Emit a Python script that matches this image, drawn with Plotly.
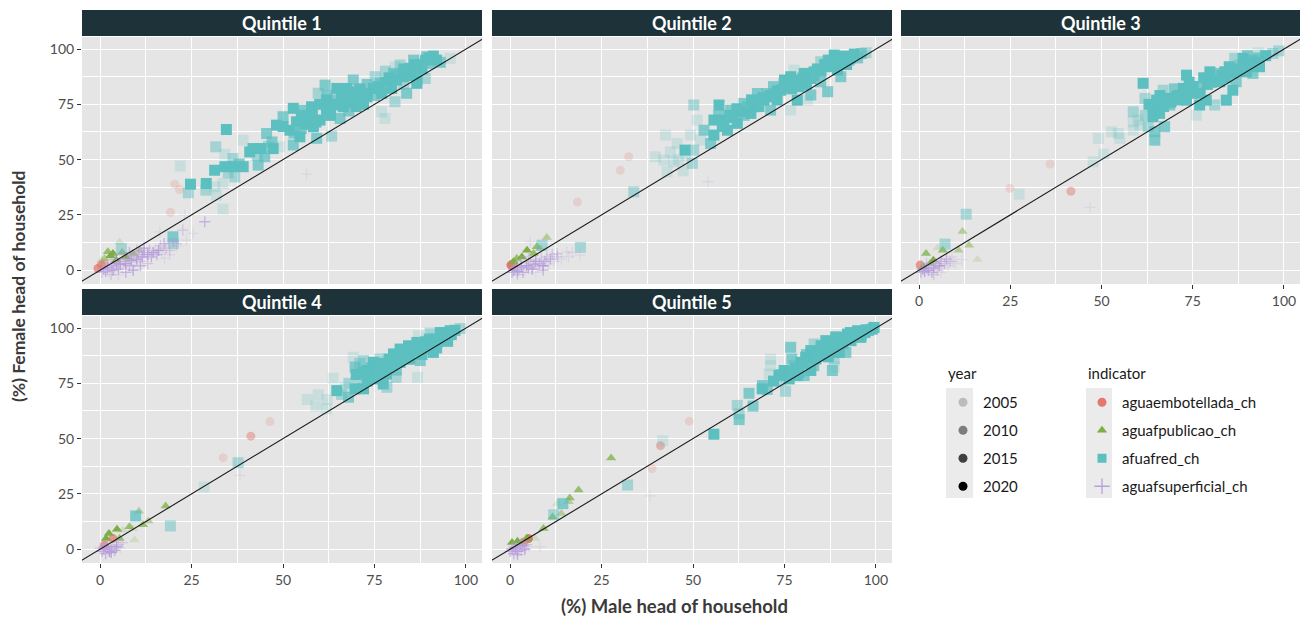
import plotly.graph_objects as go

# ---------------- data ----------------
YEARS = [2005, 2010, 2015, 2020]
YEAR_ALPHA = [0.2, 0.467, 0.733, 1.0]
INDICATORS = ["aguaembotellada_ch", "aguafpublicao_ch", "afuafred_ch", "aguafsuperficial_ch"]
COLORS = ["#E2786E", "#7CAE43", "#5CBFC0", "#B9A0DC"]
QUINTILES = ["Quintile 1", "Quintile 2", "Quintile 3", "Quintile 4", "Quintile 5"]
TICKS = [0, 25, 50, 75, 100]
TICK_LABELS = ["0", "25", "50", "75", "100"]

# each point: (male %, female %, year index into YEARS)
q1_embotellada = [(20.4, 38.9, 0), (21.7, 36.5, 0), (19.2, 26.2, 0), (-0.6, 0.8, 2), (0.3, 2.3, 2), (1.2, 3.0, 1)]
q1_publicao = [(5.3, 12.8, 0), (2.1, 8.3, 2), (3.5, 7.5, 3), (1.2, 5.3, 1), (7.1, 6.0, 3), (9.0, 7.5, 2),
               (10.8, 9.0, 1), (4.4, 4.5, 3), (0.3, 4.5, 0), (2.8, 6.5, 3), (6.0, 8.0, 2)]
q1_fred = [(91.1, 96.8, 3), (89.3, 96.5, 2), (85.7, 95.0, 2), (95.7, 95.8, 0), (82.0, 92.8, 1), (84.7, 91.3, 3),
           (87.5, 92.8, 3), (90.2, 93.5, 2), (80.2, 89.0, 2), (82.9, 87.5, 3), (86.6, 86.0, 3), (88.9, 86.7, 1),
           (86.6, 84.5, 3), (84.3, 89.0, 3), (75.2, 87.5, 1), (76.5, 84.5, 2), (79.7, 82.2, 3), (83.8, 80.0, 2),
           (80.6, 76.2, 1), (76.9, 71.6, 0), (77.9, 68.6, 0), (69.2, 86.0, 2), (74.7, 82.2, 3), (72.9, 78.4, 3),
           (71.0, 77.0, 3), (70.1, 80.7, 3), (67.4, 82.2, 3), (64.7, 82.2, 3), (61.5, 83.7, 2), (59.6, 80.0, 1),
           (61.9, 77.0, 3), (63.7, 74.7, 3), (66.5, 73.9, 3), (61.9, 71.6, 3), (60.1, 67.9, 3), (65.6, 68.6, 2),
           (58.3, 64.9, 3), (59.2, 59.6, 2), (63.3, 60.6, 1), (57.8, 73.9, 3), (55.1, 72.4, 2), (57.4, 68.6, 3),
           (53.7, 67.1, 3), (52.8, 73.2, 3), (50.0, 69.4, 2), (48.2, 65.6, 3), (45.5, 61.8, 2), (51.9, 63.3, 3),
           (54.6, 60.3, 3), (49.1, 55.8, 0), (52.8, 56.6, 2), (47.3, 55.0, 3), (45.0, 51.3, 2), (41.8, 55.0, 3),
           (39.1, 58.8, 0), (40.9, 53.5, 3), (43.2, 47.5, 2), (39.1, 46.8, 3), (36.3, 46.8, 3), (34.1, 46.8, 3),
           (36.8, 42.2, 1), (33.6, 39.2, 0), (31.3, 45.2, 3), (29.0, 39.2, 3), (31.3, 37.7, 0), (31.8, 33.9, 0),
           (33.6, 27.6, 0), (34.5, 63.6, 3), (31.6, 55.8, 1), (34.1, 52.5, 0), (36.3, 50.5, 1), (21.9, 47.1, 0),
           (24.7, 38.9, 3), (24.1, 35.0, 1), (28.9, 36.2, 1), (19.9, 15.1, 2), (5.8, 9.8, 1), (20.0, 12.0, 1),
           (88.0, 94.3, 0), (80.6, 92.0, 0), (78.0, 85.0, 3), (81.0, 86.0, 3), (73.0, 80.0, 3), (68.0, 76.0, 3),
           (66.0, 79.0, 3), (64.0, 77.0, 2), (70.0, 74.0, 3), (75.0, 79.0, 2), (85.0, 88.0, 3), (88.0, 91.0, 3),
           (92.0, 95.0, 3), (93.0, 94.0, 2), (56.0, 66.0, 3), (62.0, 74.0, 3), (47.0, 58.0, 2), (44.0, 55.0, 3),
           (55.0, 64.0, 2), (58.0, 70.0, 3), (60.0, 75.0, 3), (62.0, 79.0, 2), (65.0, 75.0, 3), (67.0, 77.0, 3),
           (69.0, 79.0, 3), (71.0, 82.0, 3), (73.0, 84.0, 2), (76.0, 83.0, 3), (79.0, 87.0, 3), (81.0, 88.0, 2),
           (83.0, 91.0, 3), (86.0, 93.0, 3), (89.0, 95.0, 3), (90.0, 96.0, 3), (86.0, 90.0, 2), (77.0, 80.0, 3),
           (72.0, 75.0, 3), (68.0, 72.0, 2), (63.0, 70.0, 3), (59.0, 67.0, 3), (55.0, 70.0, 3), (50.0, 65.0, 3),
           (53.0, 62.0, 2), (46.0, 56.0, 1), (43.0, 52.0, 1), (38.0, 48.0, 2), (35.0, 44.0, 1), (78.0, 90.0, 1),
           (83.0, 84.0, 1)]
q1_superficial = [(28.6, 21.9, 2), (22.6, 18.1, 1), (25.4, 16.6, 0), (23.6, 13.6, 0), (16.3, 17.3, 0), (23.1, 24.9, 0),
                  (56.4, 43.4, 0), (19.0, 9.0, 1), (17.6, 5.3, 0), (20.8, 12.0, 1),
                  (0.5, -1, 1), (1, 0.5, 3), (1.5, -0.5, 2), (2, 1, 3), (2.5, -1, 0), (3, 2, 2), (3.5, 0, 3), (4, 1.5, 1),
                  (4.5, 3, 3), (5, 0.5, 2), (5.5, 2.5, 3), (6, 1, 0), (6.5, 4, 2), (7, 3, 3), (7.5, 5, 1), (8, 2, 2),
                  (8.5, 4.5, 3), (9, 6, 2), (9.5, 3.5, 0), (10, 5, 3), (10.5, 7, 2), (11, 4, 1), (11.5, 6, 3), (12, 8, 2),
                  (12.5, 5.5, 0), (13, 7, 3), (13.5, 9, 1), (14, 6, 2), (14.5, 8, 3), (15, 10, 0), (15.5, 7, 2), (16, 9, 3),
                  (16.5, 11, 1), (17, 8, 0), (17.5, 12, 2), (18, 10, 1), (19, 7, 0), (20, 13, 2), (21, 11, 0), (6, 7, 1),
                  (8, 8, 2), (10, 9, 1), (12, 10, 3), (4, 5, 2), (3, -2, 1), (5, -2, 0), (7, -1, 2), (9, 0, 3), (11, 2, 2),
                  (13, 3, 1)]

q2_embotellada = [(32.4, 51.3, 0), (30.1, 45.2, 0), (18.4, 30.8, 0), (0.2, 2.3, 3), (0.9, 3.0, 2)]
q2_publicao = [(10.0, 14.8, 1), (4.6, 9.0, 3), (1.8, 5.3, 2), (3.2, 6.0, 3), (6.4, 7.5, 2), (8.2, 9.8, 1),
               (0.9, 3.8, 3), (5.5, 4.5, 0), (7.3, 10.6, 2)]
q2_fred = [(94.1, 97.7, 3), (91.3, 96.8, 3), (88.6, 97.3, 3), (97.3, 98.3, 1), (92.7, 95.0, 2), (84.9, 94.3, 1),
           (86.8, 92.0, 3), (89.5, 90.5, 3), (90.4, 87.5, 2), (83.1, 89.7, 3), (80.4, 89.0, 3), (77.6, 90.5, 0),
           (76.7, 87.5, 3), (79.5, 86.0, 3), (82.2, 86.7, 3), (84.9, 85.2, 2), (86.8, 80.7, 2), (82.2, 79.2, 2),
           (81.3, 76.9, 0), (78.5, 76.9, 3), (74.9, 84.5, 3), (74.0, 81.4, 3), (72.1, 78.4, 3), (70.3, 79.9, 2),
           (67.6, 79.9, 2), (69.4, 76.9, 3), (71.2, 72.4, 2), (76.7, 72.4, 0), (66.6, 73.9, 3), (63.9, 75.4, 2),
           (65.8, 70.9, 3), (63.0, 71.6, 3), (60.3, 72.4, 2), (57.1, 74.7, 3), (58.4, 67.9, 3), (62.1, 66.4, 3),
           (55.7, 67.9, 3), (59.4, 63.3, 3), (55.7, 61.1, 3), (53.0, 63.3, 2), (54.8, 57.3, 2), (51.1, 67.9, 0),
           (50.2, 74.7, 1), (52.1, 58.8, 0), (49.3, 61.1, 0), (47.8, 54.3, 3), (50.2, 54.3, 1), (45.7, 57.3, 0),
           (42.5, 61.1, 0), (43.8, 53.5, 0), (39.7, 51.3, 0), (42.0, 49.8, 0), (44.7, 49.0, 0), (49.8, 48.3, 1),
           (42.9, 44.5, 0), (47.3, 44.9, 0), (33.8, 35.4, 1), (19.2, 10.3, 1), (8.7, 11.3, 1),
           (87.0, 95.0, 3), (85.0, 90.0, 3), (81.0, 84.0, 3), (77.0, 82.0, 3), (73.0, 77.0, 3), (68.0, 74.0, 3),
           (64.0, 70.0, 2), (61.0, 69.0, 3), (92.0, 93.0, 3), (95.0, 96.0, 2),
           (88.0, 94.0, 3), (90.0, 95.0, 3), (86.0, 93.0, 3), (84.0, 91.0, 3), (83.0, 88.0, 3), (80.0, 87.0, 2),
           (78.0, 85.0, 3), (76.0, 83.0, 3), (73.0, 81.0, 3), (71.0, 79.0, 3), (69.0, 78.0, 3), (67.0, 76.0, 3),
           (65.0, 74.0, 2), (62.0, 73.0, 3), (60.0, 70.0, 3), (58.0, 65.0, 3), (57.0, 70.0, 2), (66.0, 77.0, 3),
           (72.0, 83.0, 2), (75.0, 86.0, 3), (79.0, 83.0, 3), (93.0, 96.0, 3), (96.0, 98.0, 2), (48.0, 52.0, 0),
           (46.0, 50.0, 0)]
q2_superficial = [(5.5, 12.8, 0), (54.1, 40.0, 0), (19.0, 6.8, 0), (15.5, 8.3, 0), (12.8, 7.5, 1),
                  (0.5, -1, 2), (1, 0, 3), (1.5, 1, 2), (2, -0.5, 3), (2.5, 0.5, 1), (3, 1.5, 3), (3.5, -1, 2), (4, 0, 0),
                  (4.5, 2, 3), (5, 1, 2), (5.5, 3, 1), (6, 0.5, 3), (6.5, 2.5, 2), (7, 4, 3), (7.5, 1.5, 0), (8, 3, 2),
                  (8.5, 5, 1), (9, 2, 3), (9.5, 4, 2), (10, 6, 1), (10.5, 3, 0), (11, 5, 2), (11.5, 7, 1), (12, 4, 0),
                  (13, 6, 1), (14, 5, 0), (16, 6, 0), (17, 8, 0), (3, 4, 1), (5, 6, 1), (2, -2, 1), (7, -1, 0), (9, 0, 2)]

q3_embotellada = [(35.9, 48.0, 0), (24.9, 37.0, 0), (41.6, 35.7, 1), (0.3, 2.3, 2)]
q3_publicao = [(11.9, 17.5, 1), (13.7, 11.3, 1), (16.0, 4.8, 0), (10.8, 9.0, 1), (1.9, 7.5, 2), (5.1, 10.1, 0),
               (6.5, 9.0, 2), (3.9, 4.5, 3), (3.0, 3.0, 2), (1.2, 1.5, 3)]
q3_fred = [(98.6, 99.2, 1), (94.7, 97.3, 0), (92.9, 98.3, 0), (91.5, 95.0, 2), (88.8, 95.8, 3), (86.5, 95.8, 1),
           (93.3, 92.0, 3), (90.6, 92.0, 3), (87.9, 92.8, 1), (86.0, 89.0, 3), (83.8, 89.7, 3), (81.5, 89.0, 2),
           (79.7, 89.7, 3), (82.4, 85.2, 3), (86.9, 85.2, 2), (86.0, 81.4, 3), (89.7, 89.7, 3), (91.5, 89.0, 2),
           (84.2, 76.9, 3), (81.0, 74.7, 1), (78.7, 76.9, 3), (76.9, 74.7, 3), (76.0, 70.1, 0), (73.3, 88.2, 3),
           (75.1, 83.0, 3), (72.4, 82.2, 3), (70.5, 78.4, 3), (73.3, 76.9, 3), (67.8, 77.7, 3), (66.9, 81.4, 1),
           (65.1, 76.9, 3), (68.7, 74.7, 2), (65.9, 70.9, 3), (64.1, 73.9, 3), (64.1, 69.4, 3), (61.4, 84.5, 3),
           (61.9, 77.7, 1), (58.7, 71.6, 1), (58.7, 67.1, 0), (60.5, 65.6, 0), (62.8, 64.9, 1), (67.3, 64.9, 2),
           (64.6, 62.6, 2), (64.6, 58.8, 2), (58.7, 63.3, 0), (52.7, 62.6, 0), (55.0, 59.6, 0), (49.1, 59.6, 0),
           (54.6, 61.8, 0), (50.6, 52.5, 0), (47.7, 49.0, 0), (27.4, 34.4, 0), (12.9, 25.3, 1), (7.1, 11.8, 1),
           (84.0, 87.0, 3), (80.0, 85.0, 3), (77.0, 80.0, 3), (71.0, 79.0, 3), (88.0, 90.0, 3), (92.0, 94.0, 3),
           (95.0, 97.0, 3), (93.0, 96.0, 2), (89.0, 93.0, 3), (87.0, 91.0, 3), (85.0, 92.0, 3), (83.0, 88.0, 3),
           (81.0, 86.0, 3), (79.0, 84.0, 3), (77.0, 83.0, 2), (75.0, 80.0, 3), (73.0, 80.0, 3), (71.0, 77.0, 3),
           (69.0, 76.0, 3), (67.0, 74.0, 3), (65.0, 72.0, 2), (63.0, 75.0, 3), (66.0, 79.0, 3), (70.0, 82.0, 2),
           (74.0, 85.0, 3), (78.0, 87.0, 3), (90.0, 97.0, 2), (97.0, 98.0, 1), (62.0, 70.0, 1), (60.0, 68.0, 0)]
q3_superficial = [(46.8, 28.4, 0), (11.7, 4.8, 0), (9.4, 3.8, 0),
                  (0.5, -1, 2), (1, 0.5, 3), (1.5, -0.5, 3), (2, 1, 2), (2.5, 0, 3), (3, 2, 1), (3.5, -1, 2), (4, 1, 3),
                  (4.5, 3, 2), (5, 0, 1), (5.5, 2, 3), (6, 4, 2), (6.5, 1, 0), (7, 3, 1), (7.5, 5, 2), (8, 2, 0),
                  (8.5, 4, 1), (9, 6, 0), (10, 3, 0), (2, 3, 1), (4, -2, 1), (6, -1, 0)]

q4_embotellada = [(46.4, 57.7, 0), (41.2, 51.1, 1), (33.6, 41.4, 0), (3.5, 4.8, 2), (1.2, 1.8, 2)]
q4_publicao = [(17.9, 19.5, 2), (10.6, 17.1, 1), (13.2, 12.8, 1), (11.7, 11.1, 2), (8.9, 9.3, 0), (8.0, 10.1, 2),
               (4.6, 9.0, 3), (2.4, 7.1, 3), (6.2, 8.6, 0), (9.4, 4.1, 0), (1.6, 4.8, 3), (5.3, 4.8, 2)]
q4_fred = [(98.4, 99.8, 1), (95.7, 98.8, 3), (93.0, 98.0, 3), (90.2, 97.7, 1), (87.0, 96.5, 0), (94.8, 95.0, 3),
           (92.1, 93.5, 3), (89.3, 93.5, 3), (86.6, 93.5, 3), (84.3, 92.0, 3), (91.1, 89.0, 3), (88.4, 90.5, 3),
           (82.0, 90.5, 3), (80.2, 88.3, 3), (87.5, 85.3, 2), (84.7, 86.0, 3), (82.0, 84.5, 3), (79.3, 84.5, 1),
           (76.5, 86.0, 1), (74.7, 84.5, 3), (72.0, 85.3, 1), (69.2, 86.8, 0), (69.7, 82.3, 2), (72.9, 80.8, 3),
           (75.6, 81.5, 3), (78.3, 79.2, 3), (80.9, 77.7, 1), (86.8, 77.7, 0), (75.2, 77.0, 3), (77.4, 74.7, 3),
           (78.4, 73.2, 1), (72.0, 72.5, 3), (69.7, 72.5, 3), (66.9, 73.2, 0), (64.7, 71.7, 3), (71.0, 77.0, 1),
           (67.9, 68.7, 2), (63.7, 77.3, 0), (59.6, 69.8, 0), (62.1, 67.7, 0), (56.6, 67.7, 0), (59.0, 64.7, 0),
           (61.9, 63.5, 0), (37.7, 39.1, 1), (28.4, 28.1, 0), (19.2, 10.5, 1), (9.7, 15.0, 2),
           (90.0, 95.0, 3), (86.0, 90.0, 3), (83.0, 88.0, 3), (78.0, 83.0, 3), (74.0, 79.0, 3), (96.0, 97.0, 3),
           (81.0, 81.0, 2), (77.0, 78.0, 3),
           (97.0, 99.0, 3), (95.0, 97.0, 3), (93.0, 96.0, 3), (91.0, 95.0, 3), (89.0, 94.0, 2), (87.0, 92.0, 3),
           (85.0, 90.0, 3), (83.0, 88.5, 3), (81.0, 87.0, 3), (79.0, 86.0, 3), (77.0, 84.0, 3), (76.0, 82.0, 3),
           (74.0, 82.0, 2), (72.0, 80.0, 3), (70.0, 79.0, 3), (73.0, 76.0, 3), (76.0, 79.0, 3), (80.0, 83.0, 3),
           (84.0, 86.0, 3), (88.0, 88.0, 3), (92.0, 91.0, 3), (95.0, 94.0, 3), (68.0, 75.0, 1), (66.0, 70.0, 1),
           (71.0, 84.0, 1)]
q4_superficial = [(38.2, 33.4, 0),
                  (0.5, -1, 2), (1, 0, 3), (1.5, -2, 2), (2, 1, 3), (2.5, -1, 3), (3, 0, 2), (3.5, 1.5, 1), (4, -0.5, 2),
                  (4.5, 1, 3), (5, 2, 1), (5.5, 0.5, 0), (6, 3, 1), (1, 1, 2), (3, -1.5, 3), (0, 0.5, 1)]

q5_embotellada = [(49.0, 57.9, 0), (41.1, 46.8, 1), (38.8, 36.4, 0), (5.0, 4.8, 3), (3.7, 3.3, 2)]
q5_publicao = [(27.6, 41.2, 2), (18.7, 26.8, 2), (16.3, 23.2, 2), (16.0, 21.4, 1), (12.8, 20.6, 0), (14.0, 16.1, 1),
               (11.6, 14.6, 2), (9.1, 9.3, 2), (6.8, 4.8, 0), (4.6, 4.8, 3), (2.0, 3.6, 3), (0.5, 3.0, 3), (3.2, 2.6, 1)]
q5_fred = [(99.5, 100.3, 3), (97.3, 99.2, 3), (95.0, 98.8, 3), (92.2, 97.3, 3), (90.4, 95.8, 3), (93.2, 94.3, 3),
           (95.9, 95.8, 3), (89.5, 93.5, 3), (86.3, 94.3, 3), (83.1, 92.8, 1), (82.2, 89.8, 3), (88.6, 89.0, 3),
           (91.8, 89.0, 2), (85.8, 87.5, 3), (83.6, 86.0, 3), (88.6, 86.0, 1), (88.1, 80.8, 2), (88.6, 82.3, 0),
           (80.8, 86.8, 3), (76.7, 91.3, 2), (79.5, 84.5, 3), (77.6, 83.0, 1), (74.9, 80.8, 3), (73.5, 78.5, 3),
           (76.3, 77.0, 3), (78.5, 78.5, 3), (80.4, 78.5, 2), (82.2, 80.8, 3), (71.2, 86.0, 0), (71.2, 83.0, 0),
           (70.8, 79.2, 0), (74.0, 76.2, 1), (75.3, 71.4, 1), (68.9, 72.5, 3), (70.3, 72.2, 2), (65.3, 70.5, 2),
           (66.4, 64.7, 2), (62.1, 65.0, 1), (62.6, 61.2, 1), (62.6, 58.6, 2), (55.7, 52.0, 3), (41.7, 49.0, 0),
           (32.1, 29.0, 1), (14.4, 20.6, 2), (11.9, 15.6, 1),
           (97.0, 98.0, 3), (94.0, 96.0, 3), (91.0, 93.0, 3), (87.0, 91.0, 3), (85.0, 90.0, 3), (98.0, 99.0, 3),
           (99.0, 99.5, 3), (97.0, 98.5, 3), (96.0, 97.0, 3), (94.0, 97.0, 3), (92.0, 95.0, 3), (90.0, 93.0, 3),
           (88.0, 92.0, 3), (86.0, 90.0, 3), (84.0, 88.0, 3), (82.0, 86.0, 3), (80.0, 84.0, 3), (78.0, 82.0, 3),
           (76.0, 80.0, 3), (74.0, 79.0, 2), (72.0, 76.0, 3), (77.0, 86.0, 2), (81.0, 88.0, 2), (85.0, 92.0, 3),
           (89.0, 96.0, 3), (93.0, 98.0, 3), (87.0, 87.0, 3), (90.0, 89.0, 3), (83.0, 83.0, 2), (79.0, 80.0, 3),
           (69.0, 74.0, 2)]
q5_superficial = [(38.2, 24.1, 0), (8.2, 1.1, 0),
                  (0, -1, 2), (0.5, 0, 3), (1, -2, 2), (1.5, 0.5, 3), (2, -1, 3), (2.5, 1, 2), (3, -0.5, 1), (3.5, 1.5, 2),
                  (4, 0, 3), (4.5, 2, 1), (5, 1, 0), (1, 1, 1), (2, -2.5, 2), (3, 2, 2)]

PANEL_DATA = [
    [q1_embotellada, q1_publicao, q1_fred, q1_superficial],
    [q2_embotellada, q2_publicao, q2_fred, q2_superficial],
    [q3_embotellada, q3_publicao, q3_fred, q3_superficial],
    [q4_embotellada, q4_publicao, q4_fred, q4_superficial],
    [q5_embotellada, q5_publicao, q5_fred, q5_superficial],
]

# ---------------- layout geometry ----------------
W, H = 1302, 618
FONT = "Lato"
COL_PX = [(82, 482), (492, 892), (901, 1300)]
ROW_PLOT_PX = [(37, 284), (316, 563)]
ROW_STRIP_PX = [(10, 36), (289, 315)]
PANEL_POS = [(0, 0), (0, 1), (0, 2), (1, 0), (1, 1)]
X_RANGE = [-4.97, 104.4]
Y_RANGE = [-6.25, 105.45]

SYMBOLS = ["circle", "triangle-up", "square", "cross-thin"]
SIZES = [9, 9, 11, 8]


def fx(px):
    return px / W


def fy(py):
    return 1 - py / H


fig = go.Figure()
shapes = []
annotations = []
layout_axes = {}

for i, (row, col) in enumerate(PANEL_POS):
    n = i + 1
    xa = "x" if n == 1 else f"x{n}"
    ya = "y" if n == 1 else f"y{n}"
    x0, x1 = COL_PX[col]
    y0, y1 = ROW_PLOT_PX[row]
    show_x = (n in (3, 4, 5))
    show_y = (col == 0)
    common = dict(showgrid=True, gridcolor="white", gridwidth=1.4, zeroline=False, showline=False,
                  tickmode="array", tickvals=TICKS, ticktext=TICK_LABELS,
                  tickfont=dict(family=FONT, size=14, color="#4D4D4D"),
                  ticklen=4, tickwidth=1, tickcolor="#333333",
                  minor=dict(tickvals=[12.5, 37.5, 62.5, 87.5], showgrid=True, gridcolor="white", gridwidth=0.7, ticks=""))
    layout_axes["xaxis" if n == 1 else f"xaxis{n}"] = dict(
        common, domain=[fx(x0), fx(x1)], range=X_RANGE, anchor=ya,
        showticklabels=show_x, ticks="outside" if show_x else "")
    layout_axes["yaxis" if n == 1 else f"yaxis{n}"] = dict(
        common, domain=[fy(y1), fy(y0)], range=Y_RANGE, anchor=xa,
        showticklabels=show_y, ticks="outside" if show_y else "")

    # points
    for k, pts in enumerate(PANEL_DATA[i]):
        marker = dict(symbol=SYMBOLS[k], size=SIZES[k], color=COLORS[k],
                      opacity=[YEAR_ALPHA[p[2]] for p in pts])
        if SYMBOLS[k] == "cross-thin":
            marker["line"] = dict(color=COLORS[k], width=1.3)
        else:
            marker["line"] = dict(width=0)
        fig.add_trace(go.Scatter(
            x=[p[0] for p in pts], y=[p[1] for p in pts], mode="markers",
            marker=marker, xaxis=xa, yaxis=ya, showlegend=False,
            name=INDICATORS[k],
            customdata=[YEARS[p[2]] for p in pts]))
    # identity line
    fig.add_trace(go.Scatter(x=[-20, 120], y=[-20, 120], mode="lines",
                             line=dict(color="#1a1a1a", width=1.1),
                             xaxis=xa, yaxis=ya, showlegend=False, hoverinfo="skip"))

    # strip
    sy0, sy1 = ROW_STRIP_PX[row]
    shapes.append(dict(type="rect", xref="paper", yref="paper", x0=fx(x0), x1=fx(x1),
                       y0=fy(sy1), y1=fy(sy0), fillcolor="#1E3239", line=dict(width=0), layer="below"))
    annotations.append(dict(text=f"<b>{QUINTILES[i]}</b>", xref="paper", yref="paper",
                            x=fx((x0 + x1) / 2), y=fy((sy0 + sy1) / 2), showarrow=False,
                            xanchor="center", yanchor="middle",
                            font=dict(family=FONT, size=18, color="white")))

# axis titles
annotations.append(dict(text="<b>(%) Male head of household</b>", xref="paper", yref="paper",
                        x=fx(674), y=fy(606), showarrow=False, xanchor="center", yanchor="middle",
                        font=dict(family=FONT, size=18.5, color="#3A3A3A")))
annotations.append(dict(text="<b>(%) Female head of household</b>", xref="paper", yref="paper",
                        x=fx(19), y=fy(286), showarrow=False, xanchor="center", yanchor="middle",
                        textangle=-90, font=dict(family=FONT, size=17.5, color="#3A3A3A")))

# legend titles
annotations.append(dict(text="year", xref="paper", yref="paper", x=fx(946), y=fy(373), showarrow=False,
                        xanchor="left", yanchor="middle", font=dict(family=FONT, size=15, color="#1A1A1A")))
annotations.append(dict(text="indicator", xref="paper", yref="paper", x=fx(1086), y=fy(373), showarrow=False,
                        xanchor="left", yanchor="middle", font=dict(family=FONT, size=15, color="#1A1A1A")))

# legend key backgrounds
shapes.append(dict(type="rect", xref="paper", yref="paper", x0=fx(946), x1=fx(973), y0=fy(498), y1=fy(388),
                   fillcolor="#EBEBEB", line=dict(width=0), layer="below"))
shapes.append(dict(type="rect", xref="paper", yref="paper", x0=fx(1086), x1=fx(1112), y0=fy(498), y1=fy(388),
                   fillcolor="#EBEBEB", line=dict(width=0), layer="below"))

# legend entries
for j, yr in enumerate(YEARS):
    fig.add_trace(go.Scatter(x=[None], y=[None], mode="markers", name=str(yr),
                             marker=dict(symbol="circle", size=9, color="black", opacity=YEAR_ALPHA[j]),
                             legend="legend", legendgroup=f"yr{yr}", showlegend=True))
for k, ind in enumerate(INDICATORS):
    m = dict(symbol=SYMBOLS[k], size=9, color=COLORS[k])
    if SYMBOLS[k] == "cross-thin":
        m["line"] = dict(color=COLORS[k], width=1.3)
        m["size"] = 11
    fig.add_trace(go.Scatter(x=[None], y=[None], mode="markers", name=ind, marker=m,
                             legend="legend2", legendgroup=f"ind{k}", showlegend=True))

legend_common = dict(bgcolor="rgba(0,0,0,0)", borderwidth=0, tracegroupgap=5.5,
                     font=dict(family=FONT, size=15, color="#1A1A1A"),
                     xanchor="left", yanchor="top", itemsizing="trace")
fig.update_layout(
    width=W, height=H,
    margin=dict(l=0, r=0, t=0, b=0),
    paper_bgcolor="white", plot_bgcolor="#E5E5E5",
    shapes=shapes, annotations=annotations,
    legend=dict(legend_common, x=fx(943), y=fy(386)),
    legend2=dict(legend_common, x=fx(1082), y=fy(386)),
    **layout_axes,
)

fig.write_html("out.html", config={"displayModeBar": False},
               post_script="document.body.style.margin='0px';document.body.style.overflow='hidden';")
